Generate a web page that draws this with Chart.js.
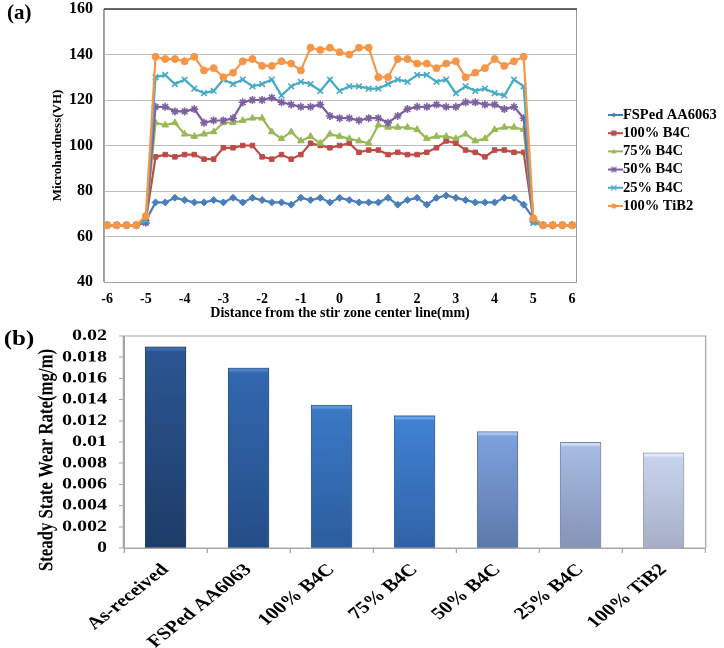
<!DOCTYPE html>
<html><head><meta charset="utf-8">
<script src="https://cdn.jsdelivr.net/npm/chart.js@4.4.0/dist/chart.umd.min.js"></script>
<style>
html,body{margin:0;padding:0;background:#fff;width:724px;height:648px;overflow:hidden;}
#a{position:absolute;left:0;top:0;width:724px;height:322px;}
#b{position:absolute;left:0;top:322px;width:580px;height:326px;transform:scaleX(1.2483);transform-origin:0 0;}
.lab{position:absolute;font-family:"Liberation Serif",serif;font-weight:bold;color:#000;line-height:1;}
canvas{display:block;}
</style></head>
<body>
<div id="a"><canvas id="ca" width="724" height="322"></canvas><div class="lab" style="left:7px;top:2px;font-size:21px">(a)</div></div>
<div id="b"><canvas id="cb" width="580" height="326"></canvas><div class="lab" style="left:3px;top:6px;font-size:20px">(b)</div></div>
<script>
// ---------- (a) microhardness data ----------
const distance = [-6,-5.75,-5.5,-5.25,-5,-4.75,-4.5,-4.25,-4,-3.75,-3.5,-3.25,-3,-2.75,-2.5,-2.25,-2,-1.75,-1.5,-1.25,-1,-0.75,-0.5,-0.25,0,0.25,0.5,0.75,1,1.25,1.5,1.75,2,2.25,2.5,2.75,3,3.25,3.5,3.75,4,4.25,4.5,4.75,5,5.25,5.5,5.75,6];
const fspedAA6063 = [65,65,65,65,67,75,75,77,76,75,75,76,75,77,75,77,76,75,75,74,77,76,77,75,77,76,75,75,75,77,74,76,77,74,77,78,77,76,75,75,75,77,77,74,68,65,65,65,65];
const b4c100 = [65,65,65,65,67,95,96,95,96,96,94,94,99,99,100,100,95,94,96,94,96,101,100,99,100,101,97,98,98,96,97,96,96,97,99,102,101,98,97,95,98,98,97,97,67,65,65,65,65];
const b4c75 = [65,65,65,65,67,110,109,110,105,104,105,106,110,110,111,112,112,106,103,106,102,104,101,105,104,103,102,101,109,108,108,108,107,103,104,104,103,105,102,103,107,108,108,107,67,65,65,65,65];
const b4c50 = [65,65,65,65,66,117,117,115,115,116,110,111,111,112,119,120,120,121,119,118,117,117,118,113,112,112,111,112,112,110,113,116,117,117,118,117,117,119,119,118,118,116,117,112,67,65,65,65,65];
const b4c25 = [65,65,65,65,67,130,131,127,129,125,123,124,129,127,129,126,127,129,122,126,128,127,124,129,124,126,126,125,125,127,129,128,131,131,128,129,123,126,124,125,123,122,129,126,66,65,65,65,65];
const tib2100 = [65,65,65,65,69,139,138,138,137,139,133,134,130,132,137,138,135,135,137,136,133,143,142,143,141,140,143,143,130,130,138,138,136,136,134,136,137,130,132,134,138,135,137,139,68,65,65,65,65];
const seriesNames = ['FSPed AA6063','100% B4C','75% B4C','50% B4C','25% B4C','100% TiB2'];
const hardnessTicks = [40,60,80,100,120,140,160];
const distanceTicks = [-6,-5,-4,-3,-2,-1,0,1,2,3,4,5,6];

// ---------- (b) wear rate data ----------
const materials = ['As-received','FSPed AA6063','100% B4C','75% B4C','50% B4C','25% B4C','100% TiB2'];
const wearRate = [0.019,0.017,0.0135,0.0125,0.011,0.010,0.009];
const wearTicks = [0,0.002,0.004,0.006,0.008,0.01,0.012,0.014,0.016,0.018,0.02];

// ---------- styles ----------
const SERIF = '"Liberation Serif","Times New Roman",serif';
const lineColors = ['#4A7EBB','#BE4B48','#98B954','#7D60A0','#46AAC5','#F79646'];
const pointStyles = ['rectRot','rect','triangle','star','crossRot','circle'];
const pointSizes = [3.5,3.2,3.8,4,4,3.5];
const barBevel = ['#3E6DAE','#4A80C6','#5A96DC','#68A6EC','#A6C2EE','#CCDAF4','#E2EAF8'];
const barTop = ['#2B5692','#3268B0','#3B79C6','#4082D3','#7DA1DC','#A7BCE3','#C8D4EE'];
const barBottom = ['#1E3C68','#244E87','#2B5D9E','#3063A8','#5D79A9','#8594B7','#A6AFC6'];
const barEdge = ['#1A3358','#204575','#285691','#2C5C9C','#566F9A','#7886A6','#959EB5'];

// small legend icons: a short line with the series marker in the middle
function makeIcon(color, style) {
  const c = document.createElement('canvas');
  c.width = 18; c.height = 10;
  const g = c.getContext('2d');
  g.strokeStyle = color; g.fillStyle = color; g.lineWidth = 2;
  g.beginPath(); g.moveTo(0, 5); g.lineTo(18, 5); g.stroke();
  g.lineWidth = 1.3;
  const cx = 9, cy = 5, r = 2.6;
  g.beginPath();
  if (style === 'rectRot') { g.moveTo(cx, cy - r); g.lineTo(cx + r, cy); g.lineTo(cx, cy + r); g.lineTo(cx - r, cy); g.closePath(); g.fill(); }
  else if (style === 'rect') { g.fillRect(cx - r, cy - r, 2 * r, 2 * r); }
  else if (style === 'triangle') { g.moveTo(cx, cy - r); g.lineTo(cx + r, cy + r * 0.8); g.lineTo(cx - r, cy + r * 0.8); g.closePath(); g.fill(); }
  else if (style === 'star') { g.moveTo(cx - r, cy - r); g.lineTo(cx + r, cy + r); g.moveTo(cx + r, cy - r); g.lineTo(cx - r, cy + r); g.moveTo(cx, cy - r); g.lineTo(cx, cy + r); g.stroke(); }
  else if (style === 'crossRot') { g.moveTo(cx - r, cy - r); g.lineTo(cx + r, cy + r); g.moveTo(cx + r, cy - r); g.lineTo(cx - r, cy + r); g.stroke(); }
  else { g.arc(cx, cy, r, 0, Math.PI * 2); g.fill(); }
  return c;
}
const legendIcons = lineColors.map((col, k) => makeIcon(col, pointStyles[k]));

const framePlugin = {
  id: 'frame',
  beforeDatasetsDraw(chart, args, opts) {
    const {ctx, chartArea: a} = chart;
    ctx.save();
    ctx.lineWidth = 1;
    ctx.strokeStyle = opts.side;
    ctx.beginPath();
    ctx.moveTo(a.right + 0.5, a.top); ctx.lineTo(a.right + 0.5, a.bottom);
    ctx.moveTo(a.left, a.bottom + 0.5); ctx.lineTo(a.right, a.bottom + 0.5);
    ctx.moveTo(a.left - 0.5, a.top); ctx.lineTo(a.left - 0.5, a.bottom);
    ctx.stroke();
    ctx.lineWidth = opts.topWidth;
    ctx.strokeStyle = opts.top;
    ctx.beginPath();
    ctx.moveTo(a.left, a.top); ctx.lineTo(a.right + 1, a.top);
    ctx.stroke();
    ctx.restore();
  }
};

const legendFix = {
  id: 'legendFix',
  beforeLayout(chart) {
    const lg = chart.legend;
    if (lg && !lg._fixedW) {
      const f = lg.fit;
      lg.fit = function () { f.call(this); this.width = 148; };
      lg._fixedW = true;
    }
  },
  afterLayout(chart) {
    const lg = chart.legend;
    if (lg) { lg.left += 32; lg.right += 32; lg.top += 95; lg.bottom += 95; }
  }
};

new Chart(document.getElementById('ca'), {
  type: 'line',
  data: {
    datasets: [fspedAA6063, b4c100, b4c75, b4c50, b4c25, tib2100].map((vals, k) => ({
      label: seriesNames[k],
      data: distance.map((d, i) => ({x: d, y: vals[i]})),
      borderColor: lineColors[k],
      backgroundColor: lineColors[k],
      pointBorderColor: lineColors[k],
      pointBackgroundColor: lineColors[k],
      pointStyle: pointStyles[k],
      pointRadius: pointSizes[k],
      pointBorderWidth: (k === 3 || k === 4) ? 1.6 : 1,
      borderWidth: 2.2,
      tension: 0,
      order: 10 - k
    }))
  },
  options: {
    responsive: false,
    animation: false,
    layout: {padding: {top: 9, right: 0, bottom: 0, left: 0}},
    scales: {
      x: {
        type: 'linear', min: -6.08, max: 6.1,
        afterBuildTicks: s => { s.ticks = distanceTicks.map(v => ({value: v})); },
        afterFit: s => { s.height = 40; },
        grid: {display: false},
        border: {display: true, color: '#A6A6A6'},
        ticks: {color: '#000', padding: 1, font: {family: SERIF, weight: 'bold', size: 14}, maxRotation: 0, autoSkip: false},
        title: {display: true, text: 'Distance from the stir zone center line(mm)', color: '#000',
                font: {family: SERIF, weight: 'bold', size: 14}, padding: {top: 0, bottom: 0}}
      },
      y: {
        min: 40, max: 160,
        afterBuildTicks: s => { s.ticks = hardnessTicks.map(v => ({value: v})); },
        afterFit: s => { s.width = 104; s.paddingTop = 0; s.paddingBottom = 0; },
        grid: {color: '#BDBDBD', drawTicks: true, tickLength: 11, tickColor: 'rgba(0,0,0,0)'},
        border: {display: true, color: '#A6A6A6'},
        ticks: {color: '#000', padding: 0, font: {family: SERIF, weight: 'bold', size: 16}},
        title: {display: true, text: 'Microhardness(VH)', color: '#000',
                font: {family: SERIF, weight: 'bold', size: 13}, padding: {top: 50, bottom: 0}}
      }
    },
    plugins: {
      frame: {side: '#9E9E9E', top: '#3C3C3C', topWidth: 1.5},
      tooltip: {enabled: false},
      legend: {
        position: 'right', align: 'start',
        labels: {
          usePointStyle: true, boxWidth: 4, boxHeight: 10, padding: 3.7, color: '#000',
          font: {family: SERIF, weight: 'bold', size: 14.5},
          generateLabels: chart => Chart.defaults.plugins.legend.labels.generateLabels(chart)
            .map(l => Object.assign(l, {pointStyle: legendIcons[l.datasetIndex], rotation: 0})),
          sort: (a, b) => a.datasetIndex - b.datasetIndex
        }
      }
    }
  },
  plugins: [framePlugin, legendFix]
});

const yTitlePlugin = {
  id: 'yTitleB',
  afterDraw(chart, args, opts) {
    const {ctx} = chart;
    ctx.save();
    ctx.translate(opts.x, opts.y);
    ctx.rotate(-Math.PI / 2);
    ctx.font = 'bold 16.8px ' + SERIF;
    ctx.fillStyle = '#000';
    ctx.textAlign = 'center';
    ctx.textBaseline = 'middle';
    ctx.fillText(opts.text, 0, 0);
    ctx.restore();
  }
};

new Chart(document.getElementById('cb'), {
  type: 'bar',
  data: {
    labels: materials,
    datasets: [{
      label: 'Steady State Wear Rate(mg/m)',
      data: wearRate,
      backgroundColor: c => {
        const ch = c.chart, i = c.dataIndex;
        if (!ch.chartArea || !ch.scales.y || i === undefined) return barTop[i || 0];
        const yT = ch.scales.y.getPixelForValue(wearRate[i]);
        const yB = ch.scales.y.getPixelForValue(0);
        const g = ch.ctx.createLinearGradient(0, yT, 0, yB);
        const b = Math.min(0.2, 3 / Math.max(1, yB - yT));
        g.addColorStop(0, barBevel[i]);
        g.addColorStop(b, barBevel[i]);
        g.addColorStop(Math.min(0.3, b * 1.6), barTop[i]);
        g.addColorStop(1, barBottom[i]);
        return g;
      },
      borderColor: barEdge,
      borderWidth: 1,
      categoryPercentage: 1,
      barPercentage: 0.5
    }]
  },
  options: {
    responsive: false,
    animation: false,
    devicePixelRatio: 2,
    layout: {padding: {top: 14, right: 15.2, bottom: 0, left: 0}},
    scales: {
      x: {
        afterFit: s => { s.height = 100; },
        grid: {drawOnChartArea: false, drawTicks: true, tickLength: 5, color: '#A6A6A6', offset: true},
        border: {display: true, color: '#A6A6A6'},
        ticks: {color: '#000', padding: 7, minRotation: 45, maxRotation: 45, autoSkip: false,
                font: {family: SERIF, weight: 'bold', size: 17}}
      },
      y: {
        min: 0, max: 0.02,
        afterBuildTicks: s => { s.ticks = wearTicks.map(v => ({value: v})); },
        afterFit: s => { s.width = 99.3; s.paddingTop = 0; s.paddingBottom = 0; },
        grid: {drawOnChartArea: false, drawTicks: true, tickLength: 4, color: '#A6A6A6'},
        border: {display: true, color: '#A6A6A6'},
        ticks: {color: '#000', padding: 9.6, autoSkip: false,
                font: {family: SERIF, weight: 'bold', size: 16},
                callback: v => String(+(+v).toFixed(3))}
      }
    },
    plugins: {
      frame: {side: '#A6A6A6', top: '#A6A6A6', topWidth: 1},
      yTitleB: {text: 'Steady State Wear Rate(mg/m)', x: 37.7, y: 138},
      legend: {display: false},
      tooltip: {enabled: false}
    }
  },
  plugins: [framePlugin, yTitlePlugin]
});
</script>
</body></html>
